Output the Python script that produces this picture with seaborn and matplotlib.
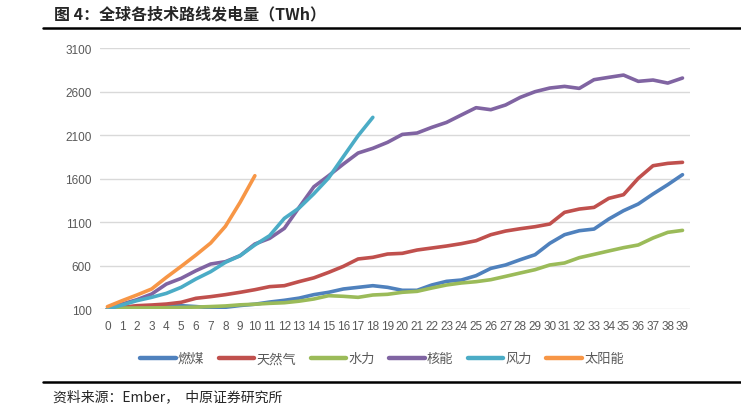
import numpy as np
import pandas as pd
import matplotlib
matplotlib.use("Agg")
import matplotlib.pyplot as plt
import seaborn as sns

# ============ data (TWh, years since reaching 100 TWh) ============
coal = [100, 120, 130, 135, 138, 138, 128, 115, 120, 140,
        155, 180, 200, 225, 265, 292, 330, 349, 368, 349,
        315, 315, 376, 418, 433, 483, 567, 606, 667, 724,
        855, 954, 1000, 1019, 1134, 1230, 1307, 1422, 1529, 1644]
gas = [100, 119, 138, 146, 157, 177, 223, 242, 265, 292,
       322, 357, 368, 415, 458, 521, 590, 675, 694, 732,
       740, 778, 801, 824, 851, 885, 954, 996, 1023, 1046,
       1077, 1211, 1249, 1268, 1372, 1414, 1602, 1747, 1774, 1786]
hydro = [100, 110, 112, 113, 115, 118, 122, 128, 135, 148,
         155, 165, 172, 190, 215, 253, 246, 234, 261, 269,
         292, 303, 341, 376, 399, 414, 437, 475, 514, 552,
         606, 629, 690, 728, 767, 805, 836, 916, 981, 1004]
nuclear = [100, 157, 207, 272, 387, 452, 540, 617, 644, 713,
           847, 912, 1027, 1268, 1505, 1632, 1766, 1893, 1947, 2016,
           2107, 2123, 2188, 2245, 2330, 2414, 2391, 2445, 2533, 2598,
           2640, 2659, 2636, 2736, 2763, 2789, 2717, 2732, 2697, 2755]
wind = [100, 146, 196, 234, 280, 349, 445, 529, 636, 713,
        836, 943, 1142, 1261, 1425, 1606, 1851, 2092, 2303]
solar = [127, 196, 261, 330, 464, 590, 720, 858, 1050, 1326, 1632]

names = ['燃煤', '天然气', '水力', '核能', '风力', '太阳能']
series = [coal, gas, hydro, nuclear, wind, solar]
colors = ['#4F81BD', '#C0504D', '#9BBB59', '#8064A2', '#4BACC6', '#F79646']

rows = []
for n, s in zip(names, series):
    for i, v in enumerate(s):
        rows.append({'year': i, 'TWh': v, 'tech': n})
df = pd.DataFrame(rows)

# ============ plot ============
sns.set_style("white")
plt.rcParams['font.family'] = ['Noto Sans CJK SC', 'DejaVu Sans']

fig = plt.figure(figsize=(7.41, 4.14), dpi=100)
ax = fig.add_axes([0.135, 0.2512, 0.796, 0.6304])

sns.lineplot(data=df, x='year', y='TWh', hue='tech', hue_order=names,
             palette=colors, linewidth=2.6, ax=ax, legend=True)

ax.set_xlim(-0.5, 39.5)
ax.set_ylim(100, 3100)
ax.set_yticks(range(100, 3101, 500))
ax.set_xticks(range(40))
ax.yaxis.grid(True, color='#D9D9D9', linewidth=1)
ax.set_axisbelow(True)
for sp in ax.spines.values():
    sp.set_visible(False)
ax.tick_params(axis='both', length=0, colors='#595959', labelsize=8.5)
ax.tick_params(axis='x', pad=8)
ax.tick_params(axis='y', pad=6)
for lab in ax.get_xticklabels() + ax.get_yticklabels():
    lab.set_family(['Liberation Sans', 'DejaVu Sans'])
ax.set_xlabel('')
ax.set_ylabel('')

handles, labels = ax.get_legend_handles_labels()
leg = ax.legend(handles, labels, loc='upper center', bbox_to_anchor=(0.478, -0.12),
                ncol=6, frameon=False, fontsize=9.5, handlelength=2.7,
                columnspacing=1.1, handletextpad=0.15)
for t in leg.get_texts():
    t.set_color('#595959')
for h in leg.get_lines():
    h.set_linewidth(3.2)

# title and source
fig.text(54 / 741, 1 - 14 / 414, '图 4：全球各技术路线发电量（TWh）', fontsize=11.5,
         fontweight='bold', va='center', ha='left')
fig.add_artist(plt.Line2D([43 / 741, 1.0], [1 - 29 / 414] * 2, color='black',
                          linewidth=1.8, transform=fig.transFigure))
fig.add_artist(plt.Line2D([43 / 741, 1.0], [1 - 383 / 414] * 2, color='black',
                          linewidth=1.8, transform=fig.transFigure))
fig.text(53 / 741, 1 - 397 / 414, '资料来源：Ember，  中原证券研究所', fontsize=10,
         va='center', ha='left')

fig.savefig('out.png', dpi=100)
